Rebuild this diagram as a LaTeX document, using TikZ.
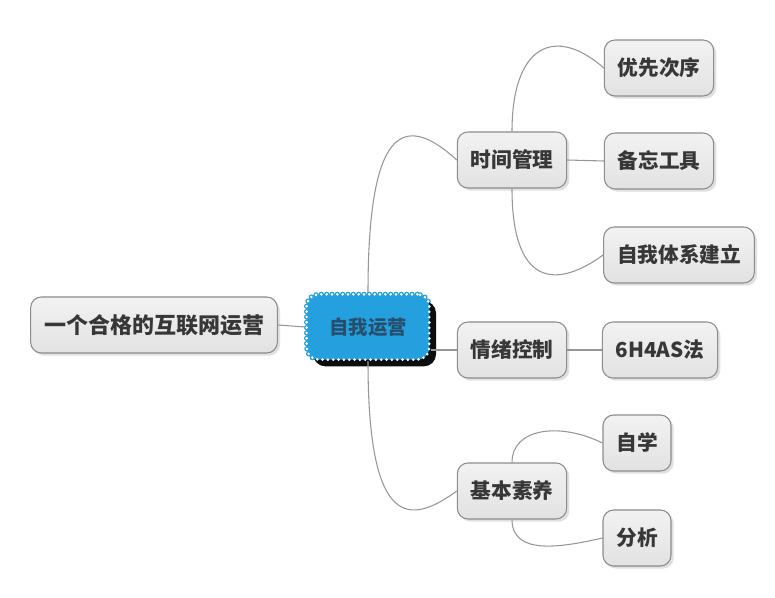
\documentclass[tikz,border=0pt]{standalone}
\usepackage{fontspec}
\usepackage{xcolor}
\usepackage{tikz}
\usetikzlibrary{shadows, calc}
\newfontfamily\cjk{Noto Sans CJK SC}
\definecolor{mygray}{RGB}{226,226,226}
\definecolor{mylight}{RGB}{242,242,242}
\definecolor{myedge}{RGB}{140,140,140}
\definecolor{mytext}{RGB}{55,55,55}
\definecolor{myblue}{RGB}{36,160,222}
\definecolor{mynavy}{RGB}{40,78,110}
\definecolor{myline}{RGB}{150,150,150}
\tikzset{
  topic/.style={rectangle, draw=myedge, top color=mylight, bottom color=mygray,
    rounded corners=8pt, minimum height=42pt, inner xsep=10pt,
    font=\cjk\bfseries\fontsize{15.5}{18}\selectfont, text=mytext, line width=0.8pt,
    drop shadow={shadow xshift=2pt, shadow yshift=-2pt, fill=black, opacity=0.12}},
  central/.style={rectangle, fill=myblue, draw=white, line width=2.2pt,
    line cap=round, dash pattern=on 0pt off 4pt, rounded corners=9pt,
    minimum width=92pt, minimum height=49pt,
    preaction={draw=myblue, line width=4pt, rounded corners=9pt},
    font=\cjk\bfseries\fontsize{14.5}{17}\selectfont, text=mynavy,
    drop shadow={shadow xshift=5pt, shadow yshift=-5pt, fill=black, opacity=0.95}},
  link/.style={draw=myline, line width=0.8pt}
}
\begin{document}
\begin{tikzpicture}[x=0.75pt, y=-0.75pt]
  \useasboundingbox (0,0) rectangle (775,598);

  % Root and central topic
  \node[topic, minimum width=176pt, font=\cjk\bfseries\fontsize{16.5}{19}\selectfont] (root) at (154,325) {一个合格的互联网运营};
  \node[central] (self) at (368,327) {自我运营};

  % Main branches
  \node[topic] (time) at (512,160) {时间管理};
  \node[topic] (mood) at (512,350) {情绪控制};
  \node[topic] (basic) at (512,491) {基本素养};

  % Sub topics
  \node[topic] (prio) at (659,68) {优先次序};
  \node[topic] (memo) at (659,161) {备忘工具};
  \node[topic] (sys) at (679,255) {自我体系建立};
  \node[topic] (sixh) at (660,350) {6H4AS法};
  \node[topic] (learn) at (637,443) {自学};
  \node[topic] (anal) at (637,538) {分析};

  % Connectors
  \draw[link] (root.east) -- (self.west);
  \draw[link] (self.north) .. controls (368,130) and (402,110) .. (time.west);
  \draw[link] (self.east |- mood.west) -- (mood.west);
  \draw[link] (self.south) .. controls (368,530) and (410,525) .. (basic.west);

  \draw[link] (time.north) .. controls (512,45) and (555,25) .. (prio.west);
  \draw[link] (time.east) -- (memo.west);
  \draw[link] (time.south) .. controls (512,285) and (555,290) .. (sys.west);
  \draw[link] (mood.east) -- (sixh.west);
  \draw[link] (basic.north) .. controls (512,428) and (560,422) .. (learn.west);
  \draw[link] (basic.south) .. controls (512,555) and (559,548) .. (anal.west);
\end{tikzpicture}
\end{document}
